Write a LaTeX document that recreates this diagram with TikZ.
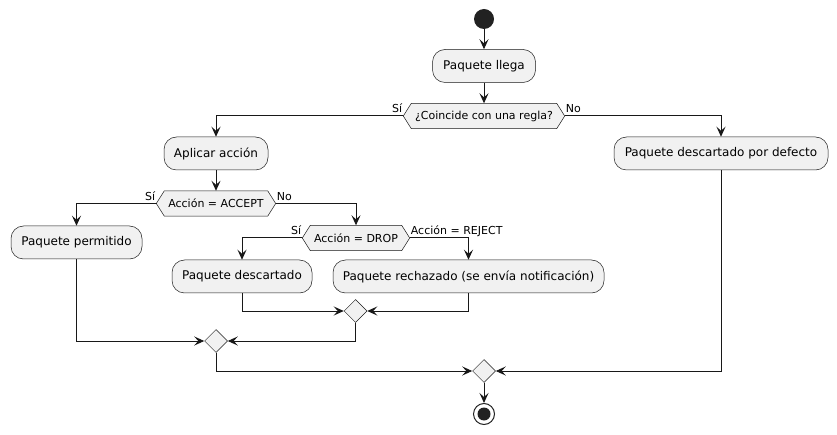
\documentclass[tikz,border=0pt]{standalone}
\usepackage{fontspec}
\setmainfont{DejaVu Sans}
\usetikzlibrary{arrows.meta,shapes.geometric,backgrounds}
\definecolor{boxfill}{HTML}{F1F1F1}
\definecolor{ink}{HTML}{181818}
\definecolor{dot}{HTML}{222222}
\newcommand{\drawhexagonof}[1]{%
  \path[draw=ink,line width=0.5pt,fill=boxfill] (#1.west) -- ([xshift=8pt]#1.north west) -- ([xshift=-8pt]#1.north east) -- (#1.east) -- ([xshift=-8pt]#1.south east) -- ([xshift=8pt]#1.south west) -- cycle;}
\begin{document}
\begin{tikzpicture}[x=1pt,y=-1pt,
  act/.style={draw=ink, line width=0.5pt, fill=boxfill, rounded corners=12.5pt, minimum height=33pt, inner xsep=8pt, font=\fontsize{12}{14}\selectfont},
  hexn/.style={minimum height=25pt, inner sep=0pt, font=\fontsize{11}{13}\selectfont},
  merge/.style={diamond, draw=ink, line width=0.5pt, fill=boxfill, minimum width=23pt, minimum height=23pt, inner sep=0pt},
  lbl/.style={font=\fontsize{11}{13}\selectfont, inner sep=1pt},
  arr/.style={draw=ink, line width=1pt, -{Stealth[length=10pt,width=9pt,inset=4pt]}},
  conn/.style={draw=ink, line width=1pt}
  ]
\useasboundingbox (0,0) rectangle (837,435);
\node[circle, fill=dot, minimum size=20pt, inner sep=0pt] (start) at (484,19) {};
\node[act, minimum width=103pt] (llega) at (484,66) {Paquete llega};
\node[hexn, minimum width=161pt] (d1) at (484,116) {¿Coincide con una regla?};
\node[act, minimum width=104pt] (aplicar) at (216,153.5) {Aplicar acción};
\node[act, minimum width=214pt] (defecto) at (721,153.5) {Paquete descartado por defecto};
\node[hexn, minimum width=119pt] (d2) at (216,203.5) {Acción = ACCEPT};
\node[act, minimum width=131pt] (permitido) at (76.5,242.5) {Paquete permitido};
\node[hexn, minimum width=107pt] (d3) at (356,238) {Acción = DROP};
\node[act, minimum width=140pt] (descartado) at (242,276.5) {Paquete descartado};
\node[act, minimum width=271pt] (rechazado) at (468.5,276.5) {Paquete rechazado (se envía notificación)};
\node[merge] (m1) at (355.5,311) {};
\node[merge] (m2) at (216,341) {};
\node[merge] (m3) at (484,371) {};
\node[circle, draw=dot, line width=1pt, fill=white, minimum size=21pt, inner sep=0pt] (stop) at (484,414) {};
\node[circle, fill=dot, minimum size=13pt, inner sep=0pt] (stopdot) at (stop) {};
\begin{scope}[on background layer]
\drawhexagonof{d1}
\drawhexagonof{d2}
\drawhexagonof{d3}
\end{scope}
% labels
\node[lbl, anchor=base east] (l1) at ([yshift=3pt]d1.west) {Sí};
\node[lbl, anchor=base west] (l2) at ([yshift=3pt]d1.east) {No};
\node[lbl, anchor=base east] (l3) at ([yshift=3pt]d2.west) {Sí};
\node[lbl, anchor=base west] (l4) at ([yshift=3pt]d2.east) {No};
\node[lbl, anchor=base east] (l5) at ([yshift=3pt]d3.west) {Sí};
\node[lbl, anchor=base west] (l6) at ([yshift=3pt]d3.east) {Acción = REJECT};
% connectors
\draw[arr] (start.south) -- (llega.north);
\draw[arr] (llega.south) -- (d1.north);
\draw[arr] (d1.west) -| (aplicar.north);
\draw[arr] (d1.east) -| (defecto.north);
\draw[arr] (aplicar.south) -- (d2.north);
\draw[arr] (d2.west) -| (permitido.north);
\draw[arr] (d2.east) -| (d3.north);
\draw[arr] (d3.west) -| (descartado.north);
\draw[arr] (d3.east) -| (rechazado.north);
\draw[arr] (descartado.south) |- (m1.west);
\draw[arr] (rechazado.south) |- (m1.east);
\draw[arr] (m1.south) |- (m2.east);
\draw[arr] (permitido.south) |- (m2.west);
\draw[arr] (m2.south) |- (m3.west);
\draw[arr] (defecto.south) |- (m3.east);
\draw[arr] (m3.south) -- (stop.north);
\end{tikzpicture}
\end{document}
